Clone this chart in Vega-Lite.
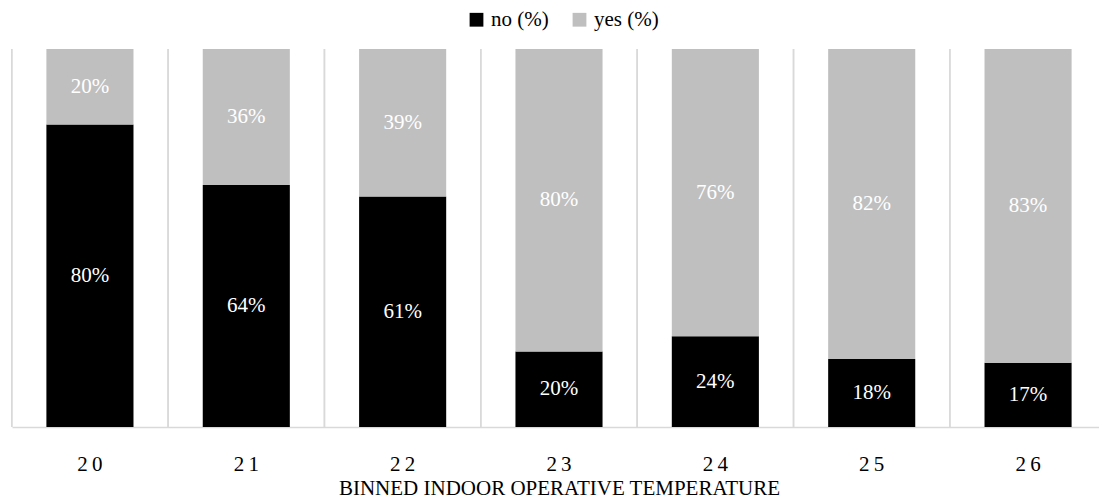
{
  "$schema": "https://vega.github.io/schema/vega-lite/v6.json",
  "autosize": {"type": "none"},
  "padding": {"left": 12, "top": 49, "right": 0, "bottom": 73},
  "width": 1094,
  "height": 378,
  "background": "white",
  "config": {
    "font": "Liberation Serif",
    "view": {"stroke": null}
  },
  "data": {
    "values": [
      {"temp": "20", "response": "no (%)", "pct": 80},
      {"temp": "20", "response": "yes (%)", "pct": 20},
      {"temp": "21", "response": "no (%)", "pct": 64},
      {"temp": "21", "response": "yes (%)", "pct": 36},
      {"temp": "22", "response": "no (%)", "pct": 61},
      {"temp": "22", "response": "yes (%)", "pct": 39},
      {"temp": "23", "response": "no (%)", "pct": 20},
      {"temp": "23", "response": "yes (%)", "pct": 80},
      {"temp": "24", "response": "no (%)", "pct": 24},
      {"temp": "24", "response": "yes (%)", "pct": 76},
      {"temp": "25", "response": "no (%)", "pct": 18},
      {"temp": "25", "response": "yes (%)", "pct": 82},
      {"temp": "26", "response": "no (%)", "pct": 17},
      {"temp": "26", "response": "yes (%)", "pct": 83}
    ]
  },
  "transform": [
    {"calculate": "datum.response === 'no (%)' ? 0 : 1", "as": "order"},
    {"stack": "pct", "groupby": ["temp"], "sort": [{"field": "order"}], "as": ["y0", "y1"]},
    {"calculate": "(datum.y0 + datum.y1) / 2", "as": "ymid"},
    {"calculate": "datum.pct + '%'", "as": "lbl"}
  ],
  "encoding": {
    "x": {
      "field": "temp",
      "type": "nominal",
      "scale": {"paddingInner": 0.443, "paddingOuter": 0.22},
      "axis": {
        "title": "BINNED INDOOR OPERATIVE TEMPERATURE",
        "titleFont": "Liberation Serif",
        "titleFontSize": 21,
        "titleFontWeight": "normal",
        "titleColor": "#000000",
        "titlePadding": 3,
        "labelFont": "Liberation Serif",
        "labelFontSize": 21,
        "labelColor": "#000000",
        "labelAngle": 0,
        "labelPadding": 26,
        "labelExpr": "join(split(datum.label, ''), '\u2009')",
        "ticks": false,
        "grid": false,
        "domainColor": "#d9d9d9",
        "domainWidth": 1.5
      }
    }
  },
  "layer": [
    {
      "mark": {"type": "rule", "color": "#d9d9d9", "strokeWidth": 1.5, "xOffset": -78.2},
      "encoding": {}
    },
    {
      "mark": {"type": "bar"},
      "encoding": {
        "y": {"field": "y0", "type": "quantitative", "scale": {"domain": [0, 100]}, "axis": null},
        "y2": {"field": "y1"},
        "color": {
          "field": "response",
          "type": "nominal",
          "scale": {"domain": ["no (%)", "yes (%)"], "range": ["#000000", "#bfbfbf"]},
          "legend": {
            "orient": "none",
            "legendX": 454,
            "legendY": -40,
            "direction": "horizontal",
            "title": null,
            "symbolType": "square",
            "symbolSize": 190,
            "symbolStrokeWidth": 0,
            "labelFont": "Times New Roman",
            "labelFontSize": 21,
            "labelColor": "#000000",
            "labelOffset": 4,
            "columnPadding": 20
          }
        }
      }
    },
    {
      "mark": {"type": "text", "color": "white", "font": "Times New Roman", "fontSize": 21, "baseline": "middle"},
      "encoding": {
        "y": {"field": "ymid", "type": "quantitative"},
        "text": {"field": "lbl", "type": "nominal"},
        "detail": {"field": "response"}
      }
    }
  ]
}
